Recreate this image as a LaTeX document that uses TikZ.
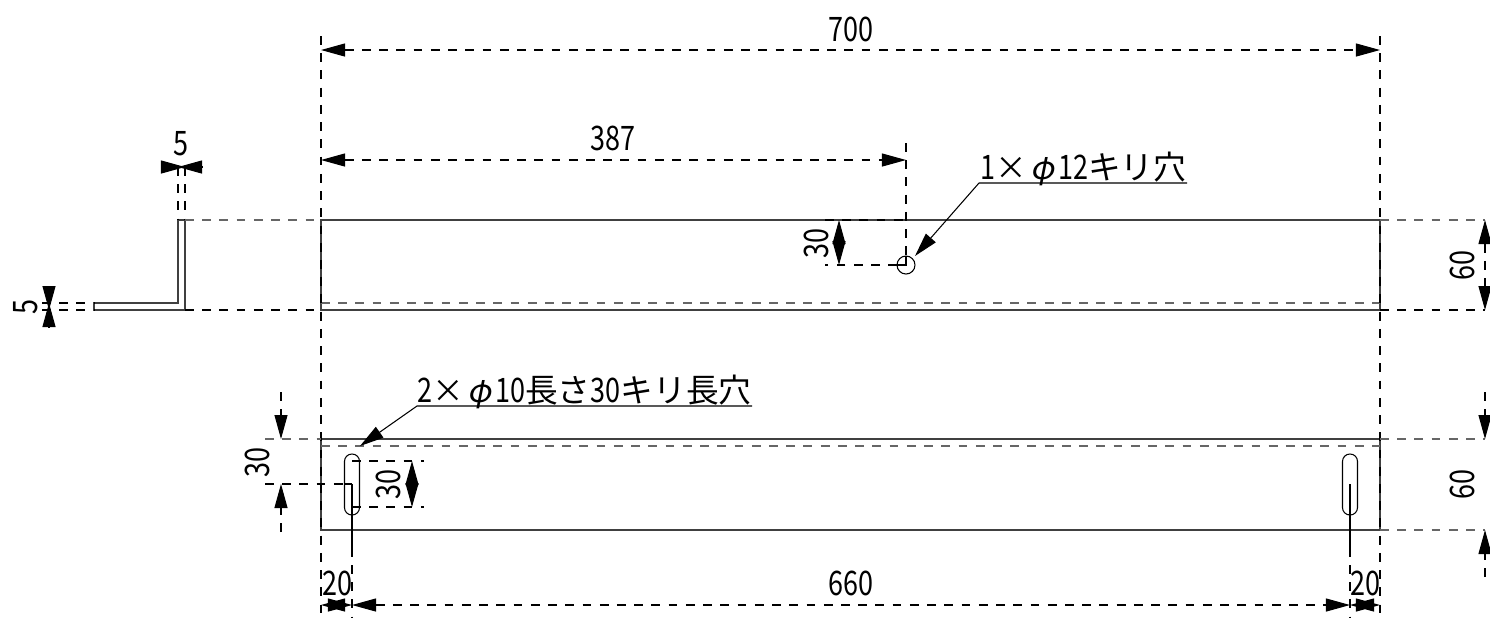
\documentclass[tikz,border=0pt]{standalone}
\usepackage{fontspec}
\usetikzlibrary{arrows.meta}
\newfontfamily\numfont[FakeStretch=0.8]{Noto Sans CJK JP}
\newfontfamily\kanafont{Noto Sans CJK JP}
\newfontfamily\phifont[FakeSlant=0.2]{Noto Sans CJK JP}
\newcommand{\numsize}{\fontsize{9.6pt}{10pt}\numfont}
\newcommand{\kana}[1]{{\fontsize{9.3pt}{10pt}\kanafont #1}}
\newcommand{\kreuz}{\makebox[8.9pt]{\fontsize{9pt}{10pt}\kanafont ×}}
\newcommand{\durch}{\makebox[8.9pt]{\fontsize{9pt}{10pt}\phifont φ}}
\tikzset{
	dimtip/.tip={Triangle[length=0.24cm,width=0.13cm]},
	body/.style={line width=0.4pt,black!75},
	thin line/.style={line width=0.3pt},
	hidden/.style={line width=0.4pt,black!60,dash pattern=on 2.5pt off 2.4pt},
	dimline/.style={line width=0.3pt,dash pattern=on 2.5pt off 2.4pt},
	leader/.style={line width=0.3pt},
	maszahl/.style={inner sep=0pt,font=\numsize},
}
\begin{document}
\begin{tikzpicture}[x=0.01cm,y=-0.01cm]
	\useasboundingbox (0,0) rectangle (1490,617);
	\def\xa{321} \def\xb{1380} \def\xc{1485}
	% Seitenansicht
	\draw[body] (94,303) -- (178,303) -- (178,220) -- (185,220) -- (185,310) -- (94,310) -- cycle;
	% Vorderansicht
	\draw[body] (\xa,220) rectangle (\xb,310);
	\draw[hidden] (\xa,303) -- (\xb,303);
	\draw[thin line] (906,265) circle (9);
	\draw[thin line] (906,256) -- (906,265) -- (897,265);
	% Draufsicht
	\draw[body] (\xa,439) rectangle (\xb,530);
	\draw[hidden] (\xa,446) -- (\xb,446);
	\foreach \x in {352,1350} {
		\draw[thin line,rounded corners=2.1pt] (\x-7.5,454) rectangle (\x+7.5,515);
		\draw[thin line] (\x,484) -- (\x,557);
		\draw[dimline] (\x,565) -- (\x,617);
	}
	\draw[thin line] (344.5,484) -- (352,484);
	% Hilfslinien
	\foreach \x in {\xa,\xb} \draw[dimline] (\x,36) -- (\x,617);
	\draw[dimline] (906,143) -- (906,256) (897,265) -- (825,265);
	\draw[dimline] (825,220) -- (906,220);
	\draw[dimline] (178,167) -- (178,220) (185,167) -- (185,220);
	\draw[hidden] (185,220) -- (\xa,220) (\xb,220) -- (\xc,220);
	\draw[dimline] (185,310) -- (\xa,310) (\xb,310) -- (\xc,310);
	\draw[dimline] (42,303) -- (94,303) (42,310) -- (94,310);
	\draw[hidden] (265,439) -- (\xa,439) (\xb,439) -- (\xc,439);
	\draw[hidden] (\xb,530) -- (\xc,530);
	\draw[dimline] (265,484) -- (344,484);
	\draw[dimline] (352,461) -- (424,461) (352,507) -- (424,507);
	% Masspfeile
	\draw[dimline,{dimtip}-{dimtip}] (\xa,50) -- (\xb,50);
	\draw[dimline,{dimtip}-{dimtip}] (\xa,160) -- (906,160);
	\draw[dimline,{dimtip}-{dimtip}] (352,605) -- (1350,605);
	\draw[dimline,{dimtip}-{dimtip}] (839,220) -- (839,265);
	\draw[dimline,{dimtip}-{dimtip}] (412,461) -- (412,507);
	\draw[dimline,{dimtip}-{dimtip}] (\xc,220) -- (\xc,310);
	\draw[dimline,-{dimtip}] (281,392) -- (281,439);
	\draw[dimline,-{dimtip}] (281,532) -- (281,484);
	\draw[dimline,-{dimtip}] (\xc,392) -- (\xc,439);
	\draw[dimline,-{dimtip}] (\xc,577) -- (\xc,530);
	\draw[dimline,-{dimtip}] (161,167) -- (185,167);
	\draw[dimline,-{dimtip}] (202,167) -- (178,167);
	\draw[dimline,-{dimtip}] (49,287) -- (49,310);
	\draw[dimline,-{dimtip}] (49,327) -- (49,303);
	\draw[dimline,-{dimtip}] (345,605) -- (\xa,605);
	\draw[dimline,-{dimtip}] (328,605) -- (352,605);
	\draw[dimline,-{dimtip}] (1374,605) -- (1350,605);
	\draw[dimline,-{dimtip}] (1356,605) -- (\xb,605);
	% Masszahlen
	\node[maszahl] (l700) at (851,29) {700};
	\node[maszahl] (l387) at (613,138) {387};
	\node[maszahl] (l660) at (851,583) {660};
	\node[maszahl] (l5a) at (181,144) {5};
	\node[maszahl,rotate=90] (l5b) at (26,307) {5};
	\node[maszahl,rotate=90] (l30a) at (816,243) {30};
	\node[maszahl,rotate=90] (l30b) at (257,462) {30};
	\node[maszahl,rotate=90] (l30c) at (388,484) {30};
	\node[maszahl,rotate=90] (l60a) at (1462,265) {60};
	\node[maszahl,rotate=90] (l60b) at (1462,484) {60};
	\node[maszahl] (l20a) at (337,583) {20};
	\node[maszahl] (l20b) at (1365,583) {20};
	% Hinweise
	\node[maszahl,anchor=base west] (bohrung) at (980,179) {1\kreuz\durch12\kana{キリ穴}};
	\node[maszahl,anchor=base west] (langloch) at (417,402) {2\kreuz\durch10\kana{長さ}30\kana{キリ長穴}};
	\draw[leader,-{dimtip}] (1187,183) -- (979,183) -- (915,256);
	\draw[leader,-{dimtip}] (752,406) -- (417,406) -- (360,446);
\end{tikzpicture}
\end{document}
